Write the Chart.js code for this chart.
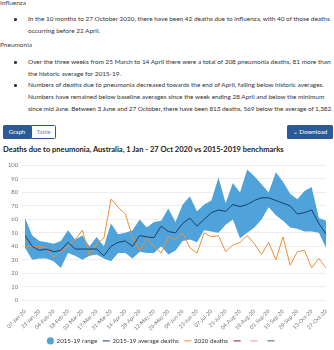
<!DOCTYPE html>
<html>
<head>
<meta charset="utf-8">
<script src="https://cdn.jsdelivr.net/npm/chart.js@4.4.1/dist/chart.umd.min.js"></script>
<style>
  html, body { margin: 0; padding: 0; background: #fff; }
  body { width: 334px; height: 350px; position: relative; overflow: hidden;
         font-family: Lato, "Open Sans", sans-serif; color: #333; }
  .t { position: absolute; left: 0; white-space: nowrap; font-size: 6.5px; line-height: 12px; color: #444; }
  .b { position: absolute; left: 28px; white-space: nowrap; font-size: 6.45px; line-height: 11.8px; }
  .dot { position: absolute; left: -14px; width: 2.5px; height: 2.5px; border-radius: 50%; background: #333; }
  .btn { position: absolute; top: 125px; height: 14px; box-sizing: border-box; font-size: 6.2px;
         line-height: 14px; text-align: center; }
  #graph { left: 3px; width: 28px; background: #2c5a96; color: #fff; border-radius: 1.5px 0 0 1.5px; }
  #table { left: 31px; width: 25px; background: #fff; color: #6f8fb8; border: 1px solid #2c5a96;
           line-height: 12px; border-radius: 0 1.5px 1.5px 0; }
  #dl { left: 287px; width: 46px; background: #2c5a96; color: #fff; border-radius: 1.5px; }
  #title { position: absolute; left: 3px; top: 145px; white-space: nowrap; font-size: 7.55px;
           font-weight: bold; color: #222; }
  #wrap { position: absolute; left: 0; top: 158px; width: 334px; height: 196px; }
</style>
</head>
<body>
<div class="t" style="top:-3px;">Influenza</div>
<div class="b" style="top:13px;"><span class="dot" style="top:5px;"></span>In the 10 months to 27 October 2020, there have been 42 deaths due to influenza, with 40 of those deaths<br>occurring before 22 April.</div>
<div class="t" style="top:39px;">Pneumonia</div>
<div class="b" style="top:56px;"><span class="dot" style="top:5px;"></span>Over the three weeks from 25 March to 14 April there were a total of 208 pneumonia deaths, 81 more than<br>the historic average for 2015-19.</div>
<div class="b" style="top:79px;"><span class="dot" style="top:5px;"></span>Numbers of deaths due to pneumonia decreased towards the end of April, falling below historic averages.<br>Numbers have remained below baseline averages since the week ending 28 April and below the minimum<br><span style="letter-spacing:-0.07px;">since mid June. Between 3 June and 27 October, there have been 813 deaths, 569 below the average of 1,382.</span></div>

<div class="btn" id="graph">Graph</div>
<div class="btn" id="table">Table</div>
<div class="btn" id="dl">&#x2304; Download</div>

<div id="title">Deaths due to pneumonia, Australia, 1 Jan - 27 Oct 2020 vs 2015-2019 benchmarks</div>

<div id="wrap"><canvas id="c"></canvas></div>

<script>
// Week-ending dates, 2020
const weeks = [
  '07-Jan-20','14-Jan-20','21-Jan-20','28-Jan-20','04-Feb-20','11-Feb-20','18-Feb-20','25-Feb-20',
  '03-Mar-20','10-Mar-20','17-Mar-20','24-Mar-20','31-Mar-20','07-Apr-20','14-Apr-20','21-Apr-20',
  '28-Apr-20','05-May-20','12-May-20','19-May-20','26-May-20','02-Jun-20','09-Jun-20','16-Jun-20',
  '23-Jun-20','30-Jun-20','07-Jul-20','14-Jul-20','21-Jul-20','28-Jul-20','04-Aug-20','11-Aug-20',
  '18-Aug-20','25-Aug-20','01-Sep-20','08-Sep-20','15-Sep-20','22-Sep-20','29-Sep-20','06-Oct-20',
  '13-Oct-20','20-Oct-20','27-Oct-20'
];

// 2015-19 minimum and maximum weekly deaths
const rangeMin = [39,30,31,31,29,24,35,33,30,33,34,31,29,35,35,31,36,35,35,40,34,37,44,45,43,52,51,50,56,60,46,50,54,60,69,63,59,54,53,51,51,50,39];
const rangeMax = [61,48,44,43,42,44,52,45,48,40,47,40,57,49,50,52,60,54,58,59,68,58,71,77,66,71,74,91,72,87,80,97,92,86,80,95,88,79,75,81,84,61,59];

// 2015-19 average weekly deaths
const average = [48,40,37,38,36,37,43,38,38,38,38,33,40,43,44,40,48,47,46.5,55,51,50,57,61,55,60,65,67,66,71,69.5,71,74,76,76,74,72,70,64,65,67,57,49];

// 2020 weekly deaths
const deaths2020 = [40,40,40,39,32,36,40,45,52,33,42,46,75,69,64,47,37,46,40,35,47,45,50,39,35,50,47,48,36,41,43,48,42,34,43,30,47,26,36,37,24,31,24];

const yTicks = [0,10,20,30,40,50,60,70,80,90,100];

new Chart(document.getElementById('c'), {
  type: 'line',
  data: {
    labels: weeks,
    datasets: [
      { label: 'min', data: rangeMin, borderWidth: 0, pointRadius: 0, fill: false,
        borderColor: 'rgba(0,0,0,0)', backgroundColor: '#4fa3da', order: 3 },
      { label: '2015-19 range', data: rangeMax, borderWidth: 0, pointRadius: 0, fill: '-1',
        borderColor: 'rgba(0,0,0,0)', backgroundColor: '#4fa3da', pointStyle: 'circle', order: 3 },
      { label: '2015-19 average deaths', data: average, borderColor: '#1c3e68', backgroundColor: '#1c3e68',
        borderWidth: 1, pointRadius: 0, fill: false, pointStyle: 'line', order: 1, tension: 0 },
      { label: '2020 deaths', data: deaths2020, borderColor: '#e8913a', backgroundColor: '#e8913a',
        borderWidth: 1, pointRadius: 0, fill: false, pointStyle: 'line', order: 2, tension: 0 },
      { label: ' ', data: [], borderColor: '#8c1c33', backgroundColor: '#8c1c33', borderWidth: 1, pointStyle: 'line', order: 4 },
      { label: ' ', data: [], borderColor: '#f090a4', backgroundColor: '#f090a4', borderWidth: 1, pointStyle: 'line', order: 4 },
      { label: ' ', data: [], borderColor: '#4a5870', backgroundColor: '#4a5870', borderWidth: 1, pointStyle: 'line', order: 4 }
    ]
  },
  options: {
    responsive: true,
    maintainAspectRatio: false,
    animation: false,
    layout: { padding: { top: 6, right: 8, left: 0, bottom: 0 } },
    plugins: {
      tooltip: { enabled: false },
      legend: {
        position: 'bottom',
        labels: {
          usePointStyle: true,
          boxHeight: 5,
          padding: 6,
          color: '#333',
          font: { family: 'Lato, sans-serif', size: 6.2 },
          filter: (item) => item.text !== 'min',
          sort: (a, b) => a.datasetIndex - b.datasetIndex
        }
      }
    },
    scales: {
      x: {
        grid: { display: false },
        border: { display: false },
        ticks: {
          autoSkip: false,
          maxRotation: 45, minRotation: 45,
          padding: 0,
          color: '#777',
          font: { family: 'Lato, sans-serif', size: 5.4 },
          callback: function (v, i) { return i % 2 === 0 ? this.getLabelForValue(v) : ''; }
        }
      },
      y: {
        min: 0, max: 100,
        afterBuildTicks: (s) => { s.ticks = yTicks.map(v => ({ value: v })); },
        afterFit: (s) => { s.width = 25; },
        grid: { color: '#e9e9e9', tickLength: 3, lineWidth: 0.8 },
        border: { display: false },
        ticks: { padding: 4, color: '#777', font: { family: 'Lato, sans-serif', size: 5.8 } }
      }
    }
  }
});
</script>
</body>
</html>
